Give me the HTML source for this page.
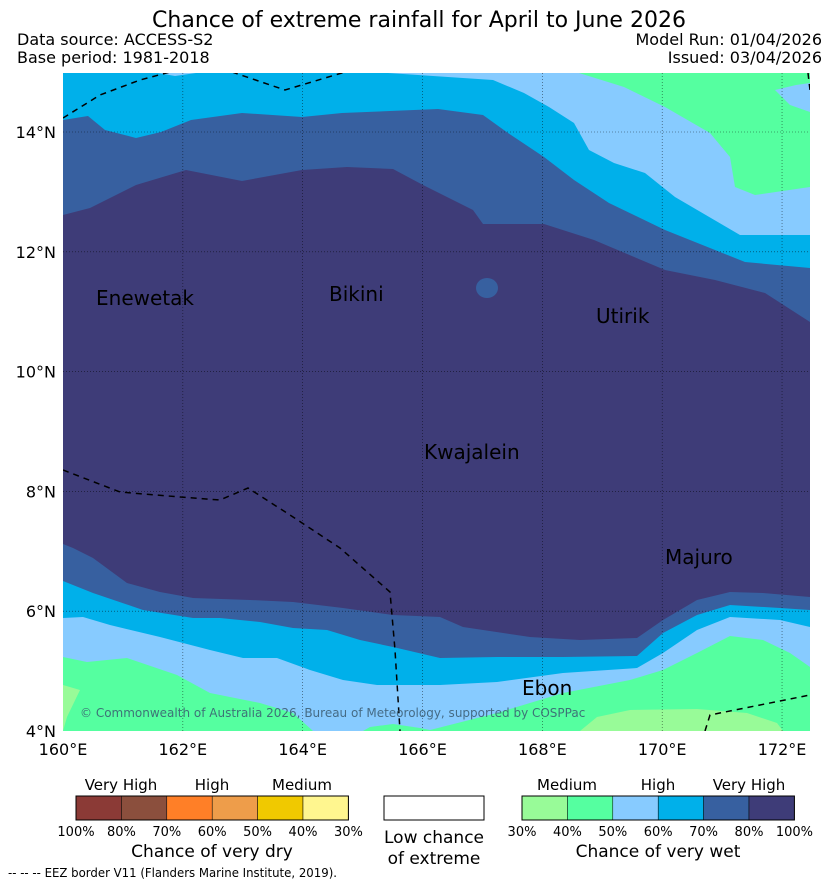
<!DOCTYPE html>
<html><head><meta charset="utf-8"><style>
html,body{margin:0;padding:0;background:#fff;}
svg{display:block;font-family:"DejaVu Sans","Liberation Sans",sans-serif;}
</style></head><body>
<svg id="chart" width="839" height="885" viewBox="0 0 839 885" xmlns="http://www.w3.org/2000/svg">
<rect width="839" height="885" fill="#fff"/>
<text x="419" y="27" text-anchor="middle" font-size="22">Chance of extreme rainfall for April to June 2026</text>
<text x="17" y="45" font-size="16">Data source: ACCESS-S2</text>
<text x="17" y="63" font-size="16">Base period: 1981-2018</text>
<text x="822" y="45" font-size="16" text-anchor="end">Model Run: 01/04/2026</text>
<text x="822" y="63" font-size="16" text-anchor="end">Issued: 03/04/2026</text>
<defs><clipPath id="mc"><rect x="63" y="73" width="747" height="658"/></clipPath></defs>
<g clip-path="url(#mc)">
<rect x="63" y="73" width="747" height="658" fill="#3e3c78"/>
<polygon fill="#3760a0" points="63,73 810,73 810,322 765,293 715,280 665,270 594,240 544,224 483,224 473,210 423,185 393,169 347,167 302,170 242,181 186,170 136,185 90,208 63,215"/>
<polygon fill="#00b0ea" points="63,73 810,73 810,268 745,262 665,230 609,203 574,180 544,157 508,133 483,115 438,109 342,113 302,117 242,113 191,120 161,132 136,138 105,130 88,116 63,120"/>
<polygon fill="#87cbff" points="388,73 810,73 810,235 740,235 675,197 645,173 614,163 589,150 574,123 549,107 524,93 493,80"/>
<polygon fill="#87cbff" points="158,73 175,76 196,73"/>
<polygon fill="#55ffa0" points="579,73 810,73 810,187 755,195 735,187 730,157 710,133 665,107 624,87"/>
<polygon fill="#87cbff" points="775,90 796,85 810,83 810,112 790,105"/>
<ellipse cx="487" cy="288" rx="11" ry="10" fill="#3760a0"/>
<polygon fill="#3760a0" points="63,544 73,548 93,558 127,583 160,592 193,598 250,600 293,602 343,608 393,615 440,617 463,627 530,637 580,640 637,638 663,620 697,600 730,592 763,593 810,597 810,731 63,731"/>
<polygon fill="#00b0ea" points="63,581 93,593 143,610 193,618 220,618 260,622 293,628 327,630 360,640 393,647 440,658 497,657 563,657 637,656 663,633 697,615 730,605 780,608 810,610 810,731 63,731"/>
<polygon fill="#87cbff" points="63,618 83,617 110,625 160,637 210,650 243,658 277,658 310,670 343,680 377,685 440,685 497,682 563,673 637,668 663,653 697,630 730,617 780,620 810,627 810,731 63,731"/>
<polygon fill="#55ffa0" points="63,657 87,662 127,658 177,675 210,693 260,703 293,713 313,731 363,731 370,727 393,724 420,728 430,730 497,713 563,693 630,680 663,670 697,653 730,636 763,640 790,653 810,667 810,731 63,731"/>
<polygon fill="#98fb98" points="63,685 80,690 67,717 63,731"/>
<polygon fill="#98fb98" points="580,731 597,717 630,710 697,709 747,713 777,723 783,731"/>
<g id="grid"></g>
<g fill="none" stroke="#000" stroke-width="1.5" stroke-dasharray="6,5">
<polyline points="63,118 100,95 140,80 170,72"/>
<polyline points="232,72 285,90 345,72"/>
<polyline points="63,470 120,492 180,497 220,500 248,488 290,515 340,548 390,592 395,650 400,731"/>
<polyline points="705,731 710,715 810,695"/>
<polyline points="808,73 810,90"/>
</g>
<g font-size="20" fill="#000">
<text x="96" y="305">Enewetak</text>
<text x="329" y="301">Bikini</text>
<text x="596" y="323">Utirik</text>
<text x="424" y="459">Kwajalein</text>
<text x="665" y="564">Majuro</text>
<text x="522" y="695">Ebon</text>
</g>
<text x="80" y="717" font-size="12" fill="#3a5a70" fill-opacity="0.85">© Commonwealth of Australia 2026, Bureau of Meteorology, supported by COSPPac</text>
</g>
<g id="axes" font-size="16"></g>
<g>
<g id="dryBar"></g>
<g id="wetBar"></g>
<rect x="384" y="796" width="100" height="24" fill="#fff" stroke="#000" stroke-width="1"/>
<text x="434" y="843" font-size="17" text-anchor="middle">Low chance</text>
<text x="434" y="864" font-size="17" text-anchor="middle">of extreme</text>
<g font-size="15" text-anchor="middle">
<text x="121" y="790">Very High</text>
<text x="212" y="790">High</text>
<text x="302" y="790">Medium</text>
<text x="567" y="790">Medium</text>
<text x="658" y="790">High</text>
<text x="749" y="790">Very High</text>
</g>
<text x="212" y="857" font-size="17" text-anchor="middle">Chance of very dry</text>
<text x="658" y="857" font-size="17" text-anchor="middle">Chance of very wet</text>
</g>
<text x="8" y="877" font-size="12" textLength="329" lengthAdjust="spacingAndGlyphs">-- -- -- EEZ border V11 (Flanders Marine Institute, 2019).</text>
</svg>
<script>
const lonTicks = [160, 162, 164, 166, 168, 170, 172];
const latTicks = [4, 6, 8, 10, 12, 14];
const dryColors = ["#8b3a36", "#8b4f3d", "#ff7f27", "#ee9d4a", "#f0c900", "#fff68f"];
const dryTicks = ["100%", "80%", "70%", "60%", "50%", "40%", "30%"];
const wetColors = ["#98fb98", "#55ffa0", "#87cbff", "#00b0ea", "#3760a0", "#3e3c78"];
const wetTicks = ["30%", "40%", "50%", "60%", "70%", "80%", "100%"];

const NS = "http://www.w3.org/2000/svg";
const xScale = lon => 63 + (lon - 160) * 59.92;
const yScale = lat => 731 - (lat - 4) * 59.9;
function mk(tag, attrs, parent) {
  const e = document.createElementNS(NS, tag);
  for (const k in attrs) e.setAttribute(k, attrs[k]);
  parent.appendChild(e);
  return e;
}
const grid = document.getElementById('grid');
const axes = document.getElementById('axes');
lonTicks.forEach(lon => {
  const x = xScale(lon);
  if (lon > 160) {
    const l = mk('line', {x1: x, x2: x, y1: 73, y2: 731, stroke: '#000', 'stroke-width': 0.6, 'stroke-dasharray': '1,2', 'stroke-opacity': 0.7}, grid);
    
    
  }
  const t = mk('text', {x: x, y: 755, 'text-anchor': 'middle'}, axes);
  t.textContent = lon + '°E';
  
  
});
latTicks.forEach(lat => {
  const y = yScale(lat);
  if (lat > 4) {
    const l = mk('line', {x1: 63, x2: 810, y1: y, y2: y, stroke: '#000', 'stroke-width': 0.6, 'stroke-dasharray': '1,2', 'stroke-opacity': 0.7}, grid);
    
    
  }
  const t = mk('text', {x: 56, y: y + 6, 'text-anchor': 'end'}, axes);
  t.textContent = lat + '°N';
  
  
});
function bar(g, colors, ticks, x0) {
  const w = 45.4;
  colors.forEach((c, i) => {
    const r = mk('rect', {x: x0 + i * w, y: 796, width: w, height: 24, fill: c, stroke: '#000', 'stroke-width': 0.5}, g);
    
    
  });
  const o = mk('rect', {x: x0, y: 796, width: w * colors.length, height: 24, fill: 'none', stroke: '#000', 'stroke-width': 1}, g);
  
  
  ticks.forEach((tk, i) => {
    const t = mk('text', {x: x0 + i * w, y: 836, 'text-anchor': 'middle', 'font-size': 13}, g);
    t.textContent = tk;
    
    
  });
}
bar(document.getElementById('dryBar'), dryColors, dryTicks, 76);
bar(document.getElementById('wetBar'), wetColors, wetTicks, 522);
</script>
</body></html>
